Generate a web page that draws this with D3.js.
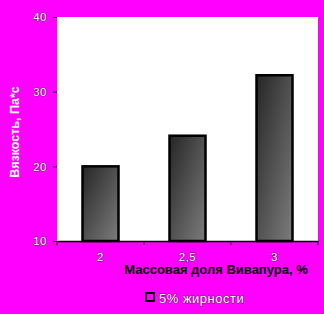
<!DOCTYPE html>
<html>
<head>
<meta charset="utf-8">
<script src="https://cdn.jsdelivr.net/npm/d3@7"></script>
<style>
  body { margin: 0; background: #ff00ff; }
  text { font-family: "Liberation Sans", Arial, sans-serif; }
  .wt { fill: #fff; stroke: #000; stroke-opacity: 0.55; stroke-width: 1; paint-order: stroke; }
</style>
</head>
<body>
<div id="graph1"></div>
<script>
const categories = ["2", "2,5", "3"]
const values = [20, 24.1, 32.2]
const yTicks = [10, 20, 30, 40]
const seriesName = "5% жирности"

const width = 324, height = 314
const margin = {top: 17, right: 6, bottom: 73, left: 57}

let svg = d3.select("#graph1")
    .append("svg")
    .attr("width", width)
    .attr("height", height)

svg.append("rect")
    .attr("width", width).attr("height", height)
    .attr("fill", "#ff00ff")

let defs = svg.append("defs")
let grad = defs.append("linearGradient")
    .attr("id", "barGrad")
    .attr("x1", 0).attr("y1", 0).attr("x2", 1).attr("y2", 1)
grad.append("stop").attr("offset", "0%").attr("stop-color", "#262626")
grad.append("stop").attr("offset", "100%").attr("stop-color", "#7c7c7c")

let g = svg.append("g")
    .attr("transform", `translate(${margin.left}, ${margin.top})`)

let plotW = width - margin.left - margin.right
let plotH = height - margin.top - margin.bottom

let y = d3.scaleLinear()
    .domain([10, 40])
    .range([plotH, 0])

let x = d3.scaleBand()
    .domain(categories)
    .range([0, plotW])
    .paddingInner(0)
    .paddingOuter(0)

// plot area
g.append("rect")
    .attr("width", plotW)
    .attr("height", plotH)
    .attr("fill", "#fff")

// y axis
let yAxis = g.append("g")
    .call(d3.axisLeft(y).tickValues(yTicks).tickSize(4).tickPadding(6).tickFormat(d3.format("d")))
yAxis.select(".domain").remove()
yAxis.selectAll("line").attr("stroke", "#000")
yAxis.selectAll("text")
    .attr("class", "wt")
    .attr("font-size", 11.5)
    .attr("letter-spacing", 0.5)

// bars
let bw = 36
g.selectAll(".bar").data(values)
    .enter()
    .append("rect")
    .attr("class", "bar")
    .attr("x", function(d, i){ return x(categories[i]) + x.bandwidth()/2 - bw/2 })
    .attr("y", function(d){ return y(d) })
    .attr("width", bw)
    .attr("height", function(d){ return y(10) - y(d) })
    .attr("fill", "url(#barGrad)")
    .attr("stroke", "#000")
    .attr("stroke-width", 2.5)

// x axis
let xAxis = g.append("g")
    .attr("transform", `translate(0, ${plotH})`)
    .call(d3.axisBottom(x).tickSize(0).tickPadding(12))
xAxis.select(".domain").attr("stroke", "#000").attr("stroke-width", 1.5)
xAxis.selectAll("text")
    .attr("class", "wt")
    .attr("font-size", 11.5)
    .attr("letter-spacing", 0.5)

// ticks between categories
let bounds = [0].concat(categories.map(function(c){ return x(c) + x.bandwidth() }))
xAxis.selectAll(".sep").data(bounds)
    .enter()
    .append("line")
    .attr("x1", function(d){ return d }).attr("x2", function(d){ return d })
    .attr("y1", 0).attr("y2", 4)
    .attr("stroke", "#000")

// axis titles
svg.append("text")
    .attr("x", 216).attr("y", 274)
    .attr("text-anchor", "middle")
    .attr("font-size", 13)
    .attr("font-weight", "bold")
    .attr("fill", "#000")
    .text("Массовая доля Вивапура, %")

svg.append("text")
    .attr("transform", "translate(19, 132) rotate(-90)")
    .attr("text-anchor", "middle")
    .attr("font-size", 12.5)
    .attr("font-weight", "bold")
    .attr("fill", "#fff")
    .text("Вязкость, Па*с")

// legend
svg.append("rect")
    .attr("x", 146).attr("y", 293)
    .attr("width", 8).attr("height", 8)
    .attr("fill", "#ff00ff")
    .attr("stroke", "#000")
    .attr("stroke-width", 2)

svg.append("text")
    .attr("class", "wt")
    .attr("x", 159).attr("y", 303)
    .attr("font-size", 13)
    .attr("letter-spacing", 0.5)
    .text(seriesName)
</script>
</body>
</html>
